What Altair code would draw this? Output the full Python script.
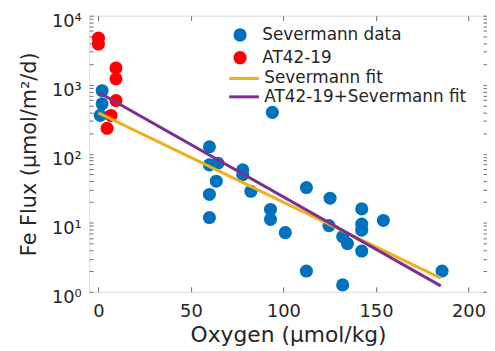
import altair as alt
import pandas as pd

# ---- data ----
sev_o2 = [2, 2, 1, 60, 60, 64.6, 63.7, 60, 60, 78, 78, 82.4, 93, 93, 94, 101,
          112.4, 112.4, 124.6, 125.2, 132, 134.6, 132, 142.3, 142.3, 142.3,
          142.3, 154, 185.7]
sev_flux = [820, 530, 360, 126, 69, 73, 40, 25.7, 11.9, 58.6, 49.7, 28.6,
            15.6, 11.2, 398, 7.2, 32.4, 2.0, 9.1, 22.7, 6.3, 5.0, 1.26, 15.9,
            9.6, 7.8, 3.9, 10.8, 2.0]
at_o2 = [0, 0, 9.5, 9.5, 9.5, 6.8, 4.7]
at_flux = [4730, 3880, 1750, 1220, 590, 359, 234]
fit_o2 = [0, 185]
sev_fit = [390, 1.58]
all_fit = [776, 1.22]

point_names = ["Severmann data", "AT42-19"]
point_colors = ["#0072BD", "#FF0000"]
line_names = ["Severmann fit", "AT42-19+Severmann fit"]
line_colors = ["#EDB120", "#7E2F8E"]
x_ticks = [0, 50, 100, 150, 200]
y_major = [1, 10, 100, 1000, 10000]
y_all = [m * d for d in [1, 10, 100, 1000] for m in range(1, 10)] + [10000]

blue = pd.DataFrame({"o2": sev_o2, "flux": sev_flux, "series": point_names[0]})
red = pd.DataFrame({"o2": at_o2, "flux": at_flux, "series": point_names[1]})
fit1 = pd.DataFrame({"o2": fit_o2, "flux": sev_fit, "series": line_names[0]})
fit2 = pd.DataFrame({"o2": fit_o2, "flux": all_fit, "series": line_names[1]})

W, H = 402, 279
FONT = "DejaVu Sans"
AX = "#808080"
TICK = "#6e6e6e"
TXT = "#262626"

xs = alt.Scale(domain=[-5, 210], nice=False, zero=False)
ys = alt.Scale(type="log", domain=[1, 10000], nice=False)


def line_legend(y):
    return alt.Legend(orient="none", legendX=140, legendY=y, title=None,
                      labelFontSize=17, labelFont=FONT, labelColor=TXT, labelLimit=400,
                      symbolType="stroke", symbolSize=900, symbolStrokeWidth=3,
                      labelOffset=4, padding=0)


pt_legend = alt.Legend(orient="none", legendX=144, legendY=11, title=None,
                       labelFontSize=17, labelFont=FONT, labelColor=TXT, labelLimit=400,
                       symbolType="circle", symbolSize=180, symbolStrokeWidth=0,
                       labelOffset=14, rowPadding=5, padding=0)
fill = alt.Fill("series:N", scale=alt.Scale(domain=point_names, range=point_colors), legend=pt_legend)
stroke1 = alt.Stroke("series:N", scale=alt.Scale(domain=[line_names[0]], range=[line_colors[0]]),
                     legend=line_legend(47))
stroke2 = alt.Color("series:N", scale=alt.Scale(domain=[line_names[1]], range=[line_colors[1]]),
                    legend=line_legend(65.5))

ylab = ("datum.value == 1 ? '10\u2070' : datum.value == 10 ? '10\u00b9' : "
        "datum.value == 100 ? '10\u00b2' : datum.value == 1000 ? '10\u00b3' : '10\u2074'")

x_main = alt.Axis(orient="bottom", values=x_ticks, ticks=False, tickSize=0, domain=False,
                  labelFontSize=18, labelFont=FONT, labelColor=TXT, labelBaseline="alphabetic",
                  labelPadding=25, labelFlush=False, grid=False,
                  title="Oxygen (\u03bcmol/kg)", titleFontSize=22, titleFont=FONT,
                  titleColor=TXT, titleFontWeight="normal", titleBaseline="alphabetic",
                  titleX=W / 2, titleY=50, titleAnchor="middle")
y_main = alt.Axis(orient="left", values=y_major, ticks=False, tickSize=0, domain=False,
                  labelExpr=ylab, labelFontSize=18, labelFont=FONT, labelColor=TXT,
                  labelBaseline="alphabetic", labelOffset=10.5, labelPadding=8,
                  labelFlush=False, grid=False,
                  title="Fe Flux (\u03bcmol/m\u00b2/d)", titleFontSize=21, titleFont=FONT,
                  titleColor=TXT, titleFontWeight="normal", titleAngle=270,
                  titleBaseline="alphabetic", titleAlign="center",
                  titleX=-54, titleY=H / 2)
x_bot_in = alt.Axis(orient="top", offset=-H, values=x_ticks, labels=False, domain=False,
                    tickSize=5, tickColor=TICK, grid=False, title=None)
x_top_in = alt.Axis(orient="bottom", offset=-H, values=x_ticks, labels=False, domain=False,
                    tickSize=5, tickColor=TICK, grid=False, title=None)
y_left_in = alt.Axis(orient="right", offset=-W, values=y_all, labels=False, domain=False,
                     tickSize=4, tickColor=TICK, grid=False, title=None)
y_right_in = alt.Axis(orient="left", offset=-W, values=y_all, labels=False, domain=False,
                      tickSize=4, tickColor=TICK, grid=False, title=None)

pts_blue = alt.Chart(blue).mark_circle(size=175, opacity=1).encode(
    x=alt.X("o2:Q", scale=xs, axis=x_main),
    y=alt.Y("flux:Q", scale=ys, axis=y_main),
    fill=fill,
)
pts_red = alt.Chart(red).mark_circle(size=175, opacity=1).encode(
    x=alt.X("o2:Q", scale=xs, axis=x_bot_in),
    y=alt.Y("flux:Q", scale=ys, axis=y_left_in),
    fill=fill,
)
line1 = alt.Chart(fit1).mark_line(strokeWidth=3).encode(
    x=alt.X("o2:Q", scale=xs, axis=x_top_in),
    y=alt.Y("flux:Q", scale=ys, axis=y_right_in),
    stroke=stroke1,
)
line2 = alt.Chart(fit2).mark_line(strokeWidth=3).encode(
    x=alt.X("o2:Q", scale=xs, axis=None),
    y=alt.Y("flux:Q", scale=ys, axis=None),
    color=stroke2,
)

chart = alt.layer(pts_blue, pts_red, line1, line2).resolve_scale(
    x="independent", y="independent"
).properties(
    width=W, height=H,
    autosize=alt.AutoSizeParams(type="none"),
    padding={"left": 82, "top": 6, "right": 0, "bottom": 55},
).configure_view(stroke=AX, strokeWidth=1).configure(background="white")

chart.save("out.html", embed_options={"renderer": "svg", "actions": False})
